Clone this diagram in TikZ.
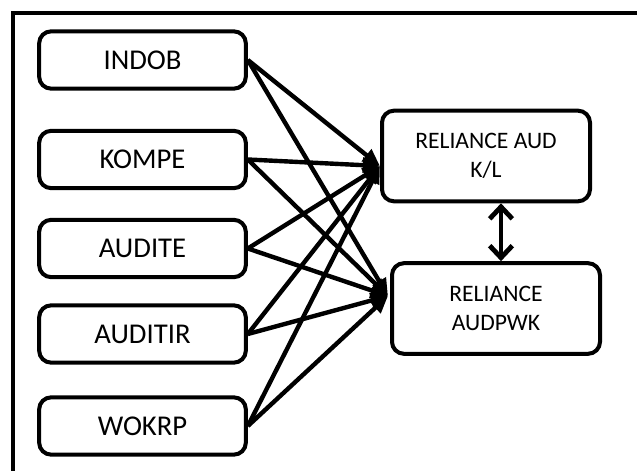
\documentclass[tikz,border=0pt]{standalone}
\usepackage{fontspec}
\setmainfont{Carlito}
\usetikzlibrary{arrows.meta}

\tikzset{every picture/.style={line width=0.75pt}}
\tikzset{
  varbox/.style={draw, line width=3pt, rounded corners=9pt, minimum width=155pt, minimum height=43pt, inner sep=0pt, font=\fontsize{21.5}{26}\selectfont},
  relbox/.style={draw, line width=3pt, rounded corners=9pt, minimum width=156pt, minimum height=68pt, inner sep=0pt, align=center, font=\fontsize{17.7}{21.75}\selectfont},
  link/.style={line width=3.3pt, -{Triangle[length=13pt,width=11pt]}},
  dblarrow/.style={line width=3.6pt, {Straight Barb[length=9pt,width=17pt]}-{Straight Barb[length=9pt,width=17pt]}}
}

\begin{document}
\begin{tikzpicture}[x=0.75pt,y=0.75pt,yscale=-1,xscale=1]
\clip (0,0) rectangle (637,471);

%Shape: Frame
\draw [line width=3pt] (13,13) rectangle (660,490);

% Variable Nodes
\node [varbox] (indob) at (142.5,60) {INDOB};
\node [varbox] (kompe) at (142.5,159.5) {KOMPE};
\node [varbox] (audite) at (142.5,248.5) {AUDITE};
\node [varbox] (auditir) at (142.5,334) {AUDITIR};
\node [varbox] (wokrp) at (142.5,426) {WOKRP};

% Reliance Nodes
\node [relbox] (relkl) at (486,156) {RELIANCE AUD\\K/L};
\node [relbox] (relpwk) at (496,308.5) {RELIANCE\\AUDPWK};

% arrow tips meet here
\coordinate (tipkl) at (380,166);
\coordinate (tippwk) at (388,296);

%Straight Lines
\foreach \src in {indob,kompe,audite,auditir,wokrp}{
  \draw [link] (\src.east) -- (tipkl);
  \draw [link] (\src.east) -- (tippwk);
}

%Straight Lines (both ways)
\draw [dblarrow] ([xshift=11.25pt]relkl.south) -- ([xshift=3.75pt]relpwk.north);

\end{tikzpicture}
\end{document}
